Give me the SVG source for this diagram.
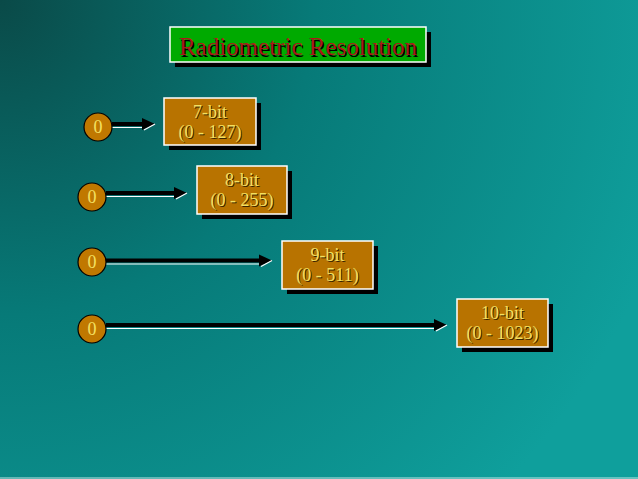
<svg xmlns="http://www.w3.org/2000/svg" width="638" height="479" viewBox="0 0 638 479">
<defs>
<radialGradient id="bg" cx="0" cy="0" r="700" gradientUnits="userSpaceOnUse">
<stop offset="0" stop-color="#0a4a48"/>
<stop offset="0.45" stop-color="#077a78"/>
<stop offset="1" stop-color="#0f9f9c"/>
</radialGradient>
<style>
.shadow{fill:#000}
.box{fill:#b87300;stroke:#fff;stroke-width:1.5}
.title{fill:#00aa00;stroke:#fff;stroke-width:1.5}
.t{font-family:"Liberation Serif","Times New Roman",serif;text-anchor:middle}
.lbl{font-size:18px;fill:#f4e060}
.lsh{font-size:18px;fill:#3a2400}
.circ{fill:#c07800;stroke:#000;stroke-width:1.2}
.bar{stroke:#000;stroke-width:4}
.hl{stroke:#fff;stroke-width:1.2}
</style>
</defs>
<rect width="638" height="479" fill="url(#bg)"/>
<line x1="0" y1="478" x2="638" y2="478" stroke="#bfe6e4" stroke-width="1"/>

<g id="title">
<rect class="shadow" x="175" y="32" width="256" height="35"/>
<rect class="title" x="170" y="27" width="256" height="35"/>
<text class="t" x="299.5" y="56.5" font-size="25" fill="#000">Radiometric Resolution</text>
<text class="t" x="298" y="55" font-size="25" fill="#a81a1a">Radiometric Resolution</text>
</g>

<g id="connectors">
<line class="hl" x1="112" y1="127.5" x2="146" y2="127.5"/>
<line class="bar" x1="112" y1="124" x2="144" y2="124"/>
<polygon points="142,118 155,124 142,130" fill="#000"/>
<line class="hl" x1="144" y1="130" x2="155" y2="124"/>

<line class="hl" x1="106" y1="196.5" x2="178" y2="196.5"/>
<line class="bar" x1="106" y1="193" x2="176" y2="193"/>
<polygon points="174,187 187,193 174,199" fill="#000"/>
<line class="hl" x1="176" y1="199" x2="187" y2="193"/>

<line class="hl" x1="106" y1="264" x2="263" y2="264"/>
<line class="bar" x1="106" y1="260.5" x2="261" y2="260.5"/>
<polygon points="259,254.5 272,260.5 259,266.5" fill="#000"/>
<line class="hl" x1="261" y1="266.5" x2="272" y2="260.5"/>

<line class="hl" x1="106" y1="328.5" x2="438" y2="328.5"/>
<line class="bar" x1="106" y1="325" x2="436" y2="325"/>
<polygon points="434,319 447,325 434,331" fill="#000"/>
<line class="hl" x1="436" y1="331" x2="447" y2="325"/>
</g>

<g id="zero1">
<ellipse class="circ" cx="98" cy="127" rx="14" ry="14"/>
<text class="t lbl" x="98" y="133">0</text>
</g>
<g id="zero2">
<ellipse class="circ" cx="92" cy="197" rx="14" ry="14"/>
<text class="t lbl" x="92" y="203">0</text>
</g>
<g id="zero3">
<ellipse class="circ" cx="92" cy="262" rx="14" ry="14"/>
<text class="t lbl" x="92" y="268">0</text>
</g>
<g id="zero4">
<ellipse class="circ" cx="92" cy="329" rx="14" ry="14"/>
<text class="t lbl" x="92" y="335">0</text>
</g>

<g id="box7">
<rect class="shadow" x="169" y="103" width="92" height="47"/>
<rect class="box" x="164" y="98" width="92" height="47"/>
<text class="t lsh" x="211" y="119">7-bit</text>
<text class="t lbl" x="210" y="118">7-bit</text>
<text class="t lsh" x="211" y="139">(0 - 127)</text>
<text class="t lbl" x="210" y="138">(0 - 127)</text>
</g>
<g id="box8">
<rect class="shadow" x="202" y="171" width="90" height="48"/>
<rect class="box" x="197" y="166" width="90" height="48"/>
<text class="t lsh" x="243" y="187">8-bit</text>
<text class="t lbl" x="242" y="186">8-bit</text>
<text class="t lsh" x="243" y="207">(0 - 255)</text>
<text class="t lbl" x="242" y="206">(0 - 255)</text>
</g>
<g id="box9">
<rect class="shadow" x="287" y="246" width="91" height="48"/>
<rect class="box" x="282" y="241" width="91" height="48"/>
<text class="t lsh" x="328.5" y="262">9-bit</text>
<text class="t lbl" x="327.5" y="261">9-bit</text>
<text class="t lsh" x="328.5" y="282">(0 - 511)</text>
<text class="t lbl" x="327.5" y="281">(0 - 511)</text>
</g>
<g id="box10">
<rect class="shadow" x="462" y="304" width="91" height="48"/>
<rect class="box" x="457" y="299" width="91" height="48"/>
<text class="t lsh" x="503.5" y="320">10-bit</text>
<text class="t lbl" x="502.5" y="319">10-bit</text>
<text class="t lsh" x="503.5" y="340">(0 - 1023)</text>
<text class="t lbl" x="502.5" y="339">(0 - 1023)</text>
</g>
</svg>
